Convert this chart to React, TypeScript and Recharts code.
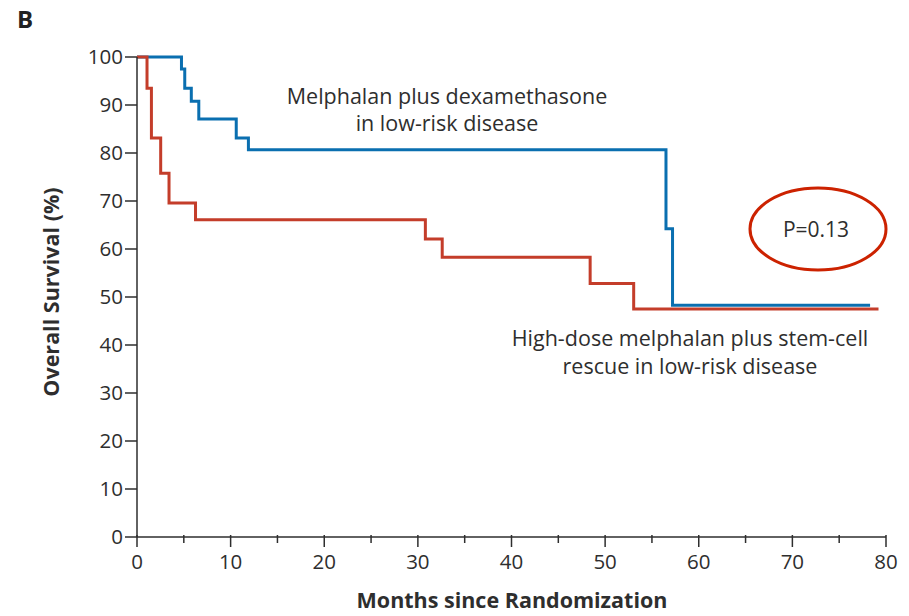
import { LineChart, Line, XAxis, YAxis } from "recharts";

// Kaplan-Meier step points: month of each event and survival (%) after it
const mdMonths = [0, 4.75, 5.1, 5.8, 6.6, 10.6, 11.9, 56.5, 57.2, 78.3];
const mdSurvival = [100, 97.5, 93.5, 90.8, 87.1, 83.1, 80.7, 64.2, 48.3, 48.3];

const hdmMonths = [0, 1.07, 1.54, 2.53, 3.42, 6.25, 30.8, 32.6, 48.4, 53.05, 79.2];
const hdmSurvival = [100, 93.5, 83.1, 75.8, 69.6, 66.1, 62.1, 58.3, 52.8, 47.5, 47.5];

const xTicks = [0, 5, 10, 15, 20, 25, 30, 35, 40, 45, 50, 55, 60, 65, 70, 75, 80];
const yTicks = [0, 10, 20, 30, 40, 50, 60, 70, 80, 90, 100];

const mdLabel = ["Melphalan plus dexamethasone", "in low-risk disease"];
const hdmLabel = ["High-dose melphalan plus stem-cell", "rescue in low-risk disease"];
const pValue = "P=0.13";

const FONT = "'Open Sans', 'Noto Sans', sans-serif";
const INK = "#2e2e2e";
const BLUE = "#0a6fb0";
const RED = "#c43d2a";

const toRows = (months: number[], surv: number[]) =>
  months.map((m, i) => ({ month: m, surv: surv[i] }));

const mdRows = toRows(mdMonths, mdSurvival);
const hdmRows = toRows(hdmMonths, hdmSurvival);

// bottom ticks: long marks with labels every 10 months, short marks between
const MonthTick = (props: any) => {
  const { x, y, payload } = props;
  const major = payload.value % 10 === 0;
  return (
    <g>
      <line x1={x} x2={x} y1={y - 2} y2={y + (major ? 10 : 6)} stroke={INK} strokeWidth={1.5} />
      {major && (
        <text x={x} y={y + 32} textAnchor="middle" fill={INK} fontSize={20.5} fontFamily={FONT}>
          {payload.value}
        </text>
      )}
    </g>
  );
};

export default function App() {
  return (
    <div style={{ position: "absolute", left: 0, top: 0, width: 909, height: 616, background: "#fff", overflow: "hidden" }}>
      <LineChart
        width={909}
        height={616}
        margin={{ top: 57, right: 23, bottom: 0, left: 0 }}
      >
        <XAxis
          type="number"
          dataKey="month"
          domain={[0, 80]}
          ticks={xTicks}
          interval={0}
          height={79}
          tickLine={false}
          tickSize={0}
          tickMargin={0}
          tick={<MonthTick />}
          axisLine={{ stroke: INK, strokeWidth: 1.5 }}
        />
        <YAxis
          type="number"
          domain={[0, 100]}
          ticks={yTicks}
          interval={0}
          width={137}
          tickSize={12}
          tickMargin={2}
          tickLine={{ stroke: INK, strokeWidth: 1.5 }}
          axisLine={{ stroke: INK, strokeWidth: 1.5 }}
          tick={{ fill: INK, fontSize: 20.5, fontFamily: FONT }}
        />
        <Line
          data={mdRows}
          dataKey="surv"
          type="stepAfter"
          stroke={BLUE}
          strokeWidth={3}
          dot={false}
          isAnimationActive={false}
        />
        <Line
          data={hdmRows}
          dataKey="surv"
          type="stepAfter"
          stroke={RED}
          strokeWidth={3}
          dot={false}
          isAnimationActive={false}
        />
      </LineChart>
      <svg width={909} height={616} style={{ position: "absolute", left: 0, top: 0, pointerEvents: "none" }}>
        <text x={17} y={28} fontSize={24} fontWeight="bold" fontFamily={FONT} fill="#222">B</text>
        <text
          transform="translate(50,292) rotate(-90)"
          textAnchor="middle"
          dominantBaseline="central"
          fontSize={21.5}
          fontWeight="bold"
          fontFamily={FONT}
          fill={INK}
        >
          Overall Survival (%)
        </text>
        <text x={512} y={608} textAnchor="middle" fontSize={21.5} fontWeight="bold" fontFamily={FONT} fill={INK}>
          Months since Randomization
        </text>
        {mdLabel.map((t, i) => (
          <text key={t} x={447} y={104 + i * 27} textAnchor="middle" fontSize={21.5} fontFamily={FONT} fill={INK}>
            {t}
          </text>
        ))}
        {hdmLabel.map((t, i) => (
          <text key={t} x={690} y={346 + i * 28} textAnchor="middle" fontSize={21.5} fontFamily={FONT} fill={INK}>
            {t}
          </text>
        ))}
        <ellipse cx={818} cy={229} rx={68} ry={41} fill="none" stroke="#cc2200" strokeWidth={3} />
        <text x={816} y={237} textAnchor="middle" fontSize={21} fontFamily={FONT} fill={INK}>
          {pValue}
        </text>
      </svg>
    </div>
  );
}
